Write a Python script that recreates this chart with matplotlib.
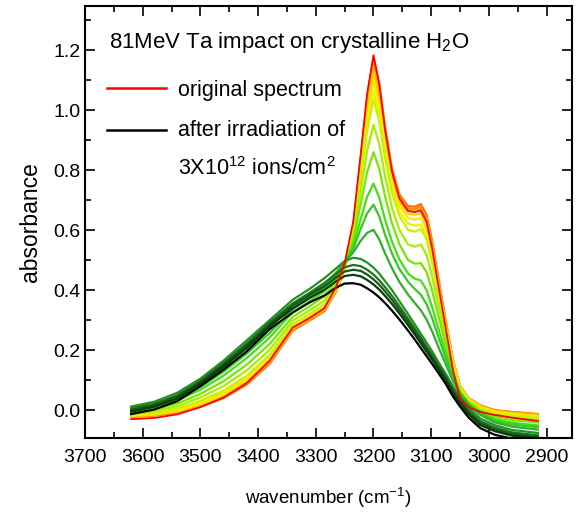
import numpy as np
import matplotlib
matplotlib.use('Agg')
import matplotlib.pyplot as plt
from matplotlib.ticker import MultipleLocator

plt.rcParams['font.family'] = ['Liberation Sans', 'DejaVu Sans']
plt.rcParams['mathtext.fontset'] = 'custom'
plt.rcParams['mathtext.rm'] = 'Liberation Sans'
plt.rcParams['mathtext.it'] = 'Liberation Sans'

# wavenumber grid (cm-1)
wn = [3620, 3580, 3540, 3500, 3460, 3420, 3380, 3340, 3310, 3285, 3265, 3250, 3235, 3222,
      3211, 3200, 3190, 3180, 3168, 3155, 3140, 3128, 3118, 3108, 3098, 3088, 3075, 3062,
      3050, 3035, 3015, 2990, 2960, 2915]

# original spectrum (red)
original = [-0.030, -0.026, -0.014, 0.010, 0.042, 0.090, 0.165, 0.275, 0.308, 0.340, 0.410, 0.490,
            0.630, 0.855, 1.055, 1.183, 1.085, 0.935, 0.795, 0.705, 0.664, 0.660, 0.666, 0.628,
            0.535, 0.420, 0.275, 0.130, 0.040, 0.010, -0.006, -0.016, -0.025, -0.036]
# successive irradiation steps
dose01 = [-0.022, -0.018, -0.008, 0.012, 0.040, 0.085, 0.155, 0.265, 0.300, 0.330, 0.395, 0.470,
          0.610, 0.840, 1.040, 1.175, 1.090, 0.945, 0.805, 0.718, 0.680, 0.678, 0.687, 0.650,
          0.560, 0.445, 0.300, 0.165, 0.080, 0.040, 0.016, 0.000, -0.006, -0.013]
dose02 = [-0.021, -0.017, -0.007, 0.014, 0.042, 0.088, 0.158, 0.267, 0.302, 0.332, 0.397, 0.471,
          0.608, 0.833, 1.029, 1.161, 1.077, 0.935, 0.797, 0.711, 0.673, 0.670, 0.678, 0.642,
          0.553, 0.439, 0.296, 0.164, 0.079, 0.039, 0.015, -0.001, -0.007, -0.014]
dose03 = [-0.021, -0.016, -0.005, 0.016, 0.045, 0.091, 0.161, 0.269, 0.304, 0.334, 0.398, 0.471,
          0.606, 0.827, 1.018, 1.147, 1.065, 0.924, 0.789, 0.704, 0.666, 0.662, 0.670, 0.633,
          0.545, 0.434, 0.293, 0.162, 0.078, 0.038, 0.014, -0.002, -0.008, -0.016]
dose04 = [-0.020, -0.015, -0.003, 0.019, 0.049, 0.095, 0.165, 0.272, 0.307, 0.338, 0.400, 0.472,
          0.603, 0.817, 1.002, 1.126, 1.046, 0.909, 0.777, 0.693, 0.655, 0.651, 0.657, 0.620,
          0.534, 0.425, 0.288, 0.160, 0.077, 0.037, 0.013, -0.004, -0.010, -0.017]
dose05 = [-0.018, -0.013, -0.001, 0.022, 0.054, 0.101, 0.171, 0.276, 0.312, 0.342, 0.404, 0.473,
          0.599, 0.803, 0.980, 1.098, 1.020, 0.888, 0.760, 0.679, 0.640, 0.635, 0.640, 0.603,
          0.520, 0.414, 0.280, 0.156, 0.075, 0.036, 0.011, -0.006, -0.013, -0.020]
dose06 = [-0.017, -0.011, 0.003, 0.027, 0.060, 0.109, 0.178, 0.282, 0.317, 0.348, 0.407, 0.474,
          0.594, 0.786, 0.952, 1.063, 0.988, 0.863, 0.740, 0.661, 0.622, 0.615, 0.618, 0.582,
          0.502, 0.400, 0.272, 0.152, 0.072, 0.034, 0.009, -0.008, -0.016, -0.023]
dose07 = [-0.015, -0.009, 0.005, 0.031, 0.065, 0.114, 0.184, 0.286, 0.321, 0.352, 0.410, 0.475,
          0.590, 0.773, 0.930, 1.035, 0.963, 0.842, 0.724, 0.647, 0.600, 0.595, 0.603, 0.570,
          0.487, 0.388, 0.264, 0.147, 0.069, 0.032, 0.007, -0.010, -0.018, -0.026]
dose08 = [-0.011, -0.003, 0.013, 0.042, 0.080, 0.132, 0.201, 0.298, 0.334, 0.365, 0.420, 0.479,
          0.577, 0.733, 0.865, 0.951, 0.887, 0.780, 0.675, 0.600, 0.552, 0.545, 0.552, 0.518,
          0.443, 0.354, 0.243, 0.132, 0.062, 0.027, 0.001, -0.016, -0.025, -0.033]
dose09 = [-0.007, 0.003, 0.022, 0.054, 0.096, 0.151, 0.220, 0.311, 0.347, 0.380, 0.430, 0.482,
          0.564, 0.689, 0.793, 0.860, 0.804, 0.713, 0.623, 0.553, 0.500, 0.488, 0.490, 0.460,
          0.396, 0.318, 0.220, 0.123, 0.060, 0.024, -0.003, -0.023, -0.033, -0.041]
dose10 = [-0.002, 0.010, 0.032, 0.068, 0.115, 0.173, 0.242, 0.327, 0.363, 0.396, 0.441, 0.486,
          0.549, 0.638, 0.711, 0.755, 0.709, 0.636, 0.562, 0.502, 0.455, 0.438, 0.432, 0.400,
          0.341, 0.275, 0.193, 0.112, 0.057, 0.022, -0.008, -0.030, -0.042, -0.051]
dose11 = [0.002, 0.014, 0.038, 0.077, 0.128, 0.188, 0.257, 0.337, 0.374, 0.407, 0.449, 0.489,
          0.539, 0.605, 0.656, 0.685, 0.646, 0.585, 0.522, 0.470, 0.428, 0.403, 0.385, 0.353,
          0.305, 0.247, 0.175, 0.105, 0.055, 0.020, -0.012, -0.035, -0.048, -0.057]
dose12 = [0.006, 0.020, 0.046, 0.088, 0.143, 0.206, 0.274, 0.350, 0.386, 0.420, 0.458, 0.492,
          0.526, 0.565, 0.591, 0.601, 0.569, 0.523, 0.473, 0.427, 0.385, 0.356, 0.333, 0.302,
          0.261, 0.213, 0.154, 0.096, 0.053, 0.018, -0.016, -0.041, -0.055, -0.065]
dose13 = [0.012, 0.028, 0.058, 0.105, 0.165, 0.232, 0.300, 0.368, 0.405, 0.440, 0.472, 0.497,
          0.508, 0.504, 0.492, 0.475, 0.455, 0.430, 0.400, 0.363, 0.320, 0.285, 0.255, 0.225,
          0.195, 0.162, 0.122, 0.078, 0.044, 0.008, -0.028, -0.050, -0.066, -0.076]
dose14 = [0.005, 0.021, 0.050, 0.098, 0.157, 0.222, 0.292, 0.356, 0.392, 0.424, 0.454, 0.476,
          0.484, 0.480, 0.468, 0.452, 0.433, 0.410, 0.381, 0.346, 0.305, 0.271, 0.242, 0.212,
          0.183, 0.152, 0.113, 0.069, 0.036, -0.001, -0.037, -0.058, -0.074, -0.084]
dose15 = [0.000, 0.016, 0.045, 0.093, 0.151, 0.215, 0.286, 0.348, 0.384, 0.413, 0.442, 0.462,
          0.468, 0.464, 0.452, 0.436, 0.418, 0.396, 0.368, 0.334, 0.294, 0.261, 0.232, 0.204,
          0.175, 0.145, 0.106, 0.062, 0.029, -0.008, -0.044, -0.064, -0.080, -0.090]
dose16 = [-0.005, 0.011, 0.039, 0.088, 0.145, 0.207, 0.280, 0.339, 0.375, 0.401, 0.429, 0.447,
          0.451, 0.446, 0.434, 0.419, 0.402, 0.381, 0.354, 0.322, 0.283, 0.251, 0.223, 0.195,
          0.167, 0.137, 0.099, 0.056, 0.023, -0.014, -0.050, -0.070, -0.085, -0.095]
# after 3x10^12 ions/cm2 (black)
final = [-0.013, 0.002, 0.030, 0.080, 0.135, 0.195, 0.270, 0.325, 0.360, 0.382, 0.408, 0.422,
         0.423, 0.418, 0.406, 0.392, 0.376, 0.357, 0.332, 0.302, 0.265, 0.234, 0.207, 0.180,
         0.153, 0.125, 0.088, 0.045, 0.012, -0.025, -0.060, -0.082, -0.095, -0.105]

steps = [dose01, dose02, dose03, dose04, dose05, dose06, dose07, dose08,
         dose09, dose10, dose11, dose12, dose13, dose14, dose15, dose16, final]
step_colors = ['#ff6a00', '#ff8c00', '#ffad00', '#ffcc00', '#ffe600', '#eef200', '#ccf000',
               '#a8ee00', '#77e600', '#44e010', '#33cc22', '#2db02d', '#249124', '#1d741d',
               '#145914', '#0c3d0c', '#000000']

fig = plt.figure(figsize=(5.87, 5.19), dpi=100)
ax = fig.add_axes([0.1448, 0.156, 0.8296, 0.8324])

for y, c in zip(steps, step_colors):
    ax.plot(wn, y, color=c, lw=1.6)
ax.plot(wn, original, color='#ff0000', lw=1.3)

ax.set_xlim(3700, 2856)
ax.set_ylim(-0.093, 1.347)
ax.xaxis.set_major_locator(MultipleLocator(100))
ax.xaxis.set_minor_locator(MultipleLocator(50))
ax.yaxis.set_major_locator(MultipleLocator(0.2))
ax.yaxis.set_minor_locator(MultipleLocator(0.1))
ax.yaxis.set_major_formatter(lambda v, p: '%.1f' % v)
ax.tick_params(which='both', direction='in', top=True, right=True, width=1.2, labelsize=14)
ax.tick_params(which='major', length=7)
ax.tick_params(which='minor', length=4)
ax.tick_params(axis='x', pad=8)
for s in ax.spines.values():
    s.set_linewidth(1.5)

ax.set_xlabel('wavenumber (cm$^{-1}$)', fontsize=13.5, labelpad=14)
ax.set_ylabel('absorbance', fontsize=16.5, labelpad=8)

# title and hand-made legend inside the axes
ax.text(0.05, 0.903, '81MeV Ta impact on crystalline H$_2$O', transform=ax.transAxes,
        fontsize=16, va='baseline')
ax.plot([0.045, 0.166], [0.81, 0.81], transform=ax.transAxes, color='#ff0000', lw=1.8)
ax.text(0.191, 0.792, 'original spectrum', transform=ax.transAxes, fontsize=15.5, va='baseline')
ax.plot([0.045, 0.166], [0.713, 0.713], transform=ax.transAxes, color='#000000', lw=1.8)
ax.text(0.191, 0.699, 'after irradiation of', transform=ax.transAxes, fontsize=15.5, va='baseline')
ax.text(0.191, 0.609, '3X10$^{12}$ ions/cm$^2$', transform=ax.transAxes, fontsize=15.5, va='baseline')

fig.savefig('out.png', dpi=100)
